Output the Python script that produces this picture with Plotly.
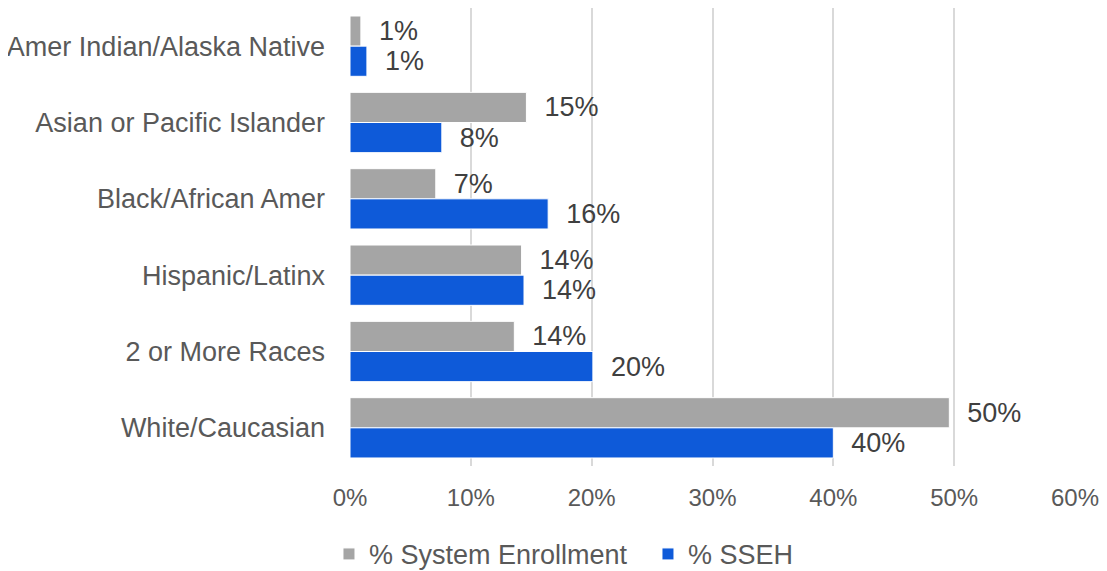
import plotly.graph_objects as go

categories = ["Amer Indian/Alaska Native", "Asian or Pacific Islander", "Black/African Amer",
              "Hispanic/Latinx", "2 or More Races", "White/Caucasian"]
system_enrollment = [0.009, 0.146, 0.071, 0.142, 0.136, 0.496]
sseh = [0.014, 0.076, 0.164, 0.144, 0.201, 0.400]
x_ticks = [0, 0.1, 0.2, 0.3, 0.4, 0.5, 0.6]
x_tick_labels = ["0%", "10%", "20%", "30%", "40%", "50%", "60%"]

FONT = "Liberation Sans, Arial, sans-serif"
LABEL_TPL = "\u00a0\u00a0%{x:.0%}"

fig = go.Figure()
fig.add_trace(go.Bar(
    y=categories, x=system_enrollment, orientation="h", name="% System Enrollment",
    marker=dict(color="#A5A5A5", line=dict(color="white", width=1)),
    texttemplate=LABEL_TPL, textposition="outside",
    textfont=dict(size=27, color="#404040", family=FONT), cliponaxis=False,
))
fig.add_trace(go.Bar(
    y=categories, x=sseh, orientation="h", name="% SSEH",
    marker=dict(color="#0E5AD9", line=dict(color="white", width=1)),
    texttemplate=LABEL_TPL, textposition="outside",
    textfont=dict(size=27, color="#404040", family=FONT), cliponaxis=False,
))

fig.update_layout(
    width=1107, height=571,
    margin=dict(l=342, r=40, t=0, b=110),
    barmode="group", bargap=0.21, bargroupgap=0,
    plot_bgcolor="white", paper_bgcolor="white",
    font=dict(family=FONT, color="#595959", size=22),
    showlegend=True,
    legend=dict(orientation="h", x=-0.029, xanchor="left", y=-0.193, yanchor="middle",
                font=dict(size=27, color="#595959", family=FONT), traceorder="normal",
                itemwidth=30, entrywidth=274, entrywidthmode="pixels"),
)
fig.update_xaxes(
    range=[0, 0.6], tickvals=x_ticks, ticktext=x_tick_labels,
    showgrid=True, gridcolor="#D9D9D9", gridwidth=1.5,
    zeroline=False, showline=False, ticks="",
    ticklabelstandoff=15, automargin=False,
    tickfont=dict(size=24, color="#595959", family=FONT),
)
fig.update_yaxes(
    autorange="reversed", showgrid=False, zeroline=False,
    showline=False, ticks="", ticklabelstandoff=24, automargin=False,
    tickfont=dict(size=27, color="#595959", family=FONT),
)

fig.write_html("out.html")
